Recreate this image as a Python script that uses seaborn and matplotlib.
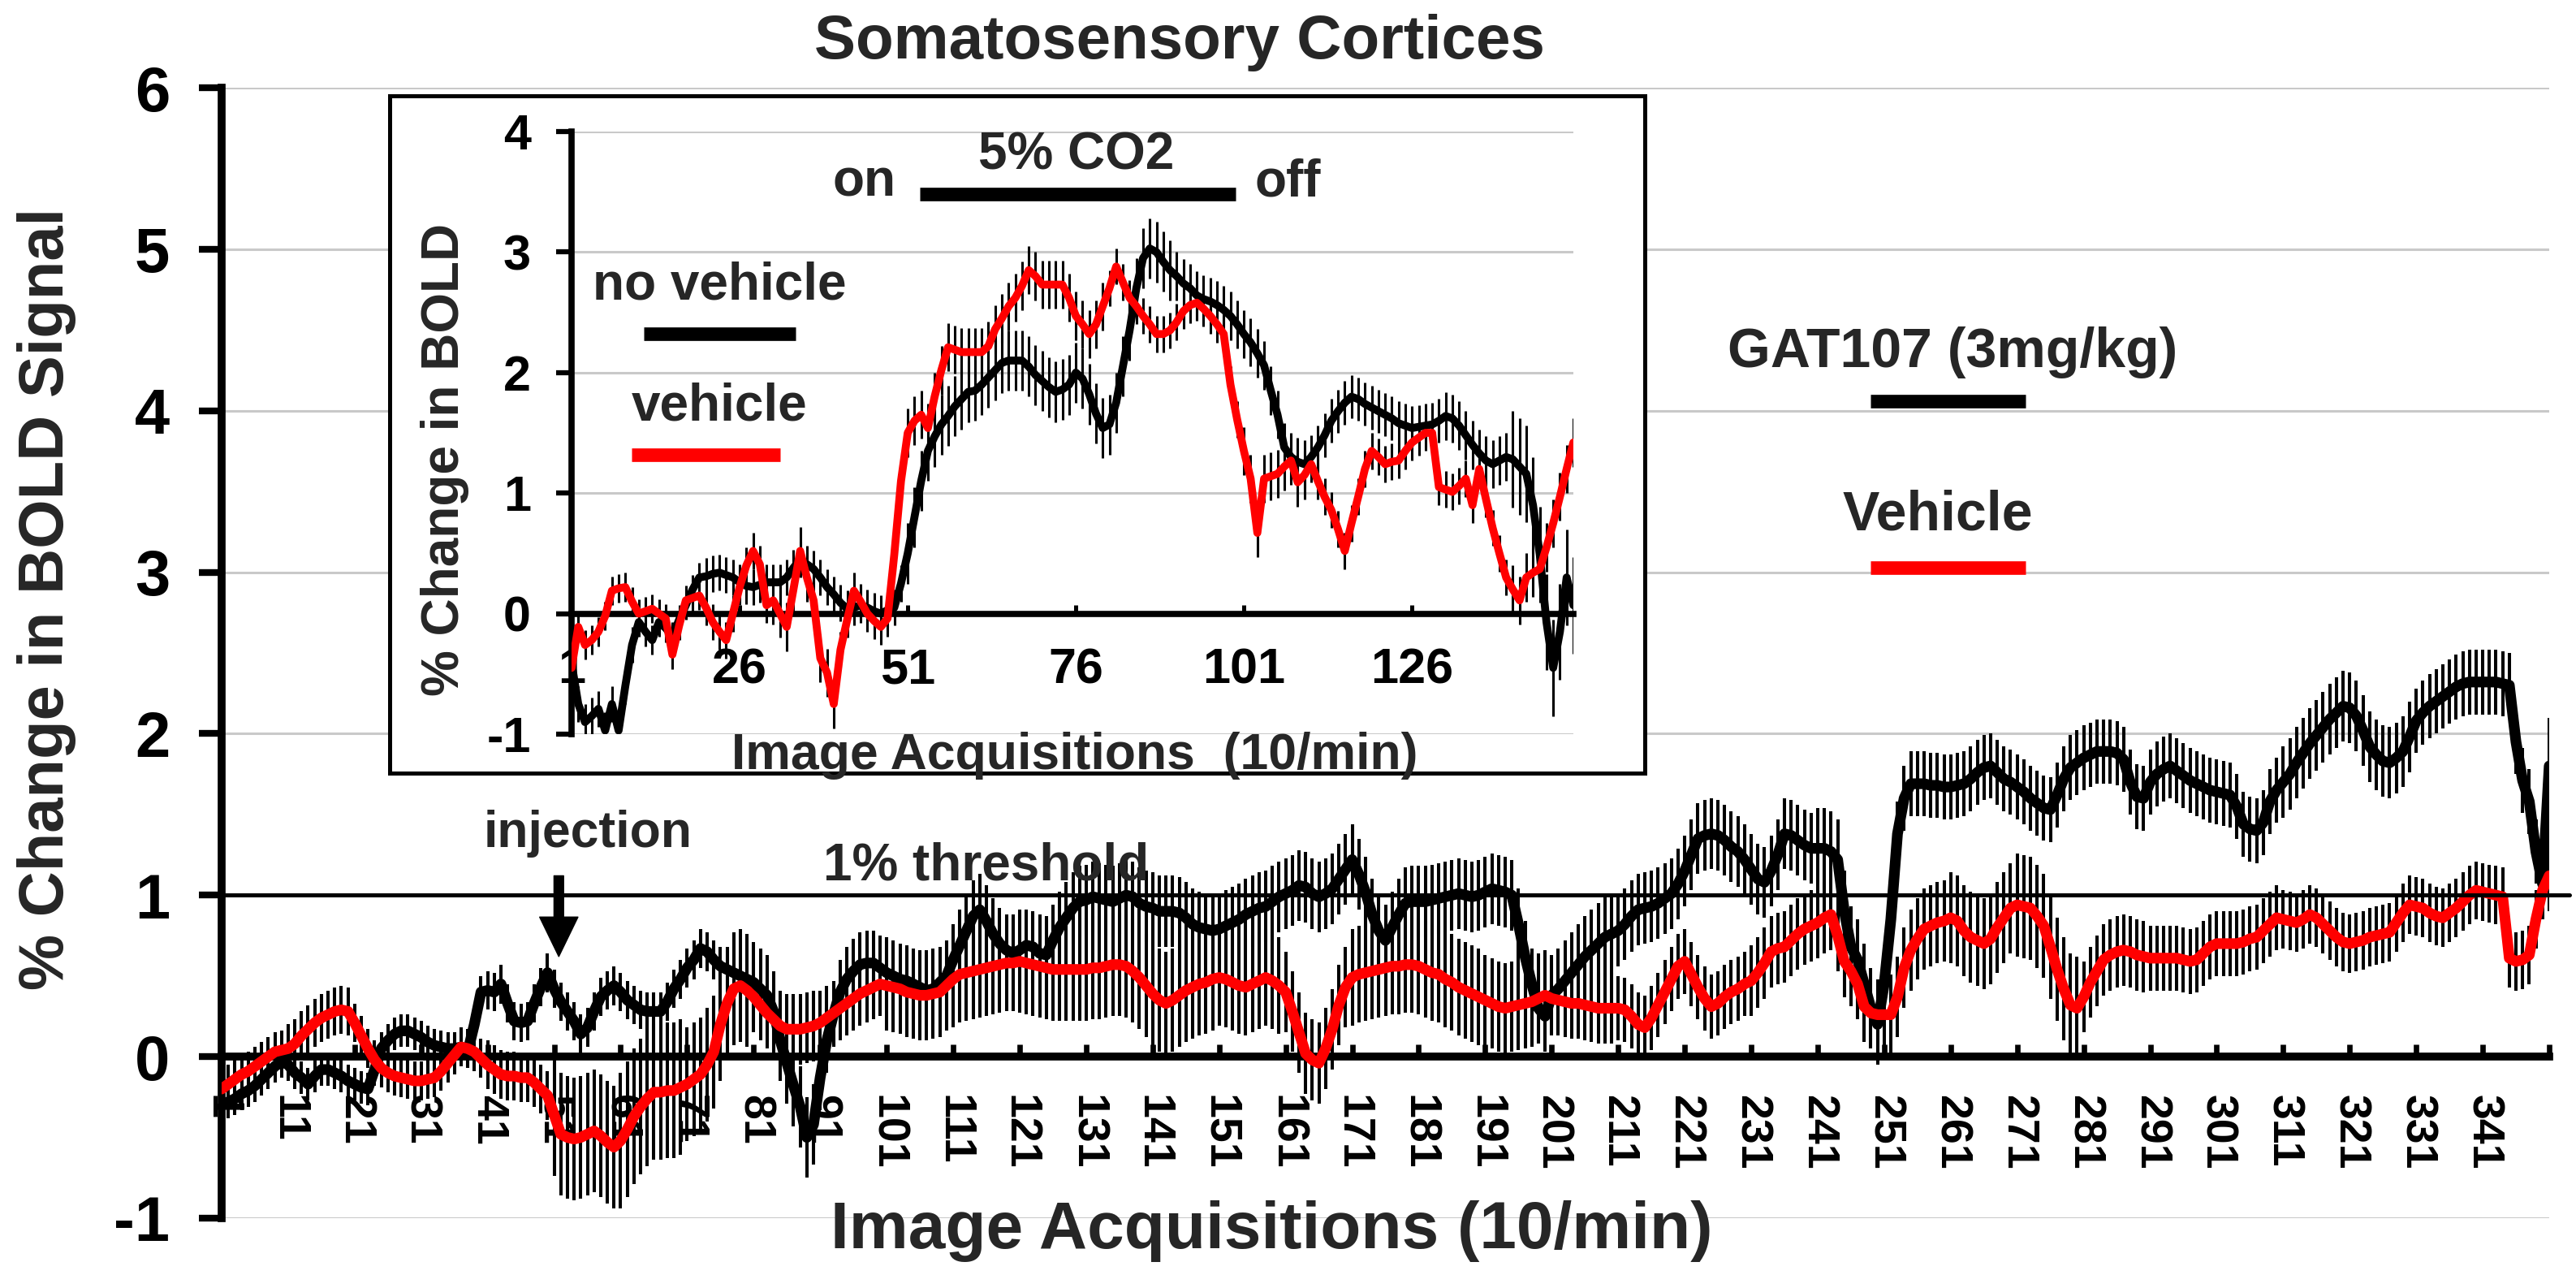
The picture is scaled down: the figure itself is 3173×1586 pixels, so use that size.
import numpy as np
import matplotlib
matplotlib.use("Agg")
import matplotlib.pyplot as plt
import seaborn as sns

# ---------------- data ----------------
# main panel: % change in BOLD, one value per image acquisition (1..351)
gat107_mean = [
    -0.30, -0.28, -0.26, -0.23, -0.21, -0.18, -0.14, -0.10, -0.06, -0.03,
    -0.05, -0.10, -0.13, -0.17, -0.12, -0.08, -0.08, -0.10, -0.12, -0.15,
    -0.17, -0.19, -0.20, -0.08, 0.05, 0.10, 0.14, 0.16, 0.16, 0.14,
    0.12, 0.09, 0.07, 0.06, 0.05, 0.05, 0.06, 0.03, 0.20, 0.40,
    0.41, 0.40, 0.45, 0.33, 0.22, 0.21, 0.22, 0.33, 0.43, 0.52,
    0.42, 0.34, 0.28, 0.22, 0.14, 0.18, 0.28, 0.37, 0.41, 0.44,
    0.40, 0.35, 0.32, 0.29, 0.28, 0.28, 0.28, 0.34, 0.42, 0.48,
    0.55, 0.60, 0.67, 0.65, 0.60, 0.56, 0.54, 0.52, 0.50, 0.48,
    0.46, 0.42, 0.38, 0.28, 0.10, -0.04, -0.18, -0.31, -0.50, -0.42,
    -0.13, 0.10, 0.26, 0.40, 0.48, 0.53, 0.57, 0.58, 0.58, 0.55,
    0.52, 0.50, 0.48, 0.47, 0.45, 0.43, 0.41, 0.42, 0.46, 0.50,
    0.60, 0.69, 0.78, 0.87, 0.91, 0.84, 0.76, 0.70, 0.66, 0.64,
    0.66, 0.69, 0.68, 0.64, 0.63, 0.72, 0.80, 0.86, 0.92, 0.96,
    0.97, 0.99, 0.98, 0.97, 0.96, 0.98, 1.00, 0.99, 0.95, 0.93,
    0.92, 0.90, 0.90, 0.90, 0.89, 0.86, 0.82, 0.80, 0.79, 0.78,
    0.79, 0.81, 0.83, 0.85, 0.88, 0.90, 0.92, 0.93, 0.96, 0.99,
    1.01, 1.03, 1.06, 1.05, 1.01, 0.99, 1.01, 1.04, 1.10, 1.16,
    1.22, 1.13, 1.02, 0.88, 0.78, 0.72, 0.80, 0.88, 0.95, 0.96,
    0.96, 0.96, 0.97, 0.98, 0.99, 1.00, 1.01, 1.00, 0.99, 1.00,
    1.02, 1.04, 1.03, 1.02, 1.00, 0.82, 0.62, 0.45, 0.30, 0.25,
    0.38, 0.42, 0.47, 0.52, 0.57, 0.62, 0.66, 0.70, 0.74, 0.76,
    0.78, 0.82, 0.87, 0.91, 0.92, 0.93, 0.95, 0.98, 1.01, 1.07,
    1.15, 1.25, 1.35, 1.37, 1.38, 1.37, 1.34, 1.30, 1.27, 1.22,
    1.16, 1.10, 1.08, 1.15, 1.25, 1.38, 1.37, 1.34, 1.31, 1.29,
    1.29, 1.29, 1.27, 1.22, 0.90, 0.68, 0.60, 0.45, 0.30, 0.20,
    0.45, 0.85, 1.38, 1.60, 1.69, 1.69, 1.69, 1.68, 1.68, 1.67,
    1.67, 1.68, 1.69, 1.72, 1.76, 1.79, 1.80, 1.76, 1.72, 1.70,
    1.67, 1.64, 1.60, 1.57, 1.54, 1.53, 1.62, 1.72, 1.79, 1.82,
    1.85, 1.87, 1.89, 1.89, 1.89, 1.88, 1.84, 1.70, 1.61, 1.60,
    1.70, 1.75, 1.78, 1.80, 1.77, 1.74, 1.71, 1.69, 1.67, 1.65,
    1.64, 1.63, 1.62, 1.55, 1.44, 1.41, 1.40, 1.45, 1.58, 1.65,
    1.70, 1.75, 1.82, 1.88, 1.94, 1.99, 2.04, 2.09, 2.13, 2.17,
    2.16, 2.11, 2.02, 1.92, 1.87, 1.83, 1.82, 1.85, 1.89, 1.98,
    2.08, 2.13, 2.17, 2.20, 2.23, 2.26, 2.29, 2.31, 2.32, 2.32,
    2.32, 2.32, 2.32, 2.31, 2.30, 1.95, 1.71, 1.58, 1.27, 1.07,
    1.80,
]
vehicle_mean = [
    -0.20, -0.17, -0.14, -0.11, -0.09, -0.06, -0.03, 0.00, 0.03, 0.04,
    0.05, 0.08, 0.13, 0.17, 0.21, 0.24, 0.26, 0.28, 0.29, 0.28,
    0.21, 0.13, 0.05, -0.02, -0.07, -0.10, -0.12, -0.13, -0.14, -0.15,
    -0.15, -0.14, -0.13, -0.09, -0.04, 0.01, 0.06, 0.05, 0.03, -0.01,
    -0.05, -0.08, -0.11, -0.12, -0.12, -0.13, -0.13, -0.16, -0.20, -0.24,
    -0.36, -0.48, -0.50, -0.51, -0.50, -0.48, -0.46, -0.49, -0.53, -0.56,
    -0.52, -0.45, -0.37, -0.31, -0.26, -0.22, -0.22, -0.21, -0.21, -0.19,
    -0.17, -0.14, -0.11, -0.05, 0.03, 0.20, 0.33, 0.42, 0.44, 0.41,
    0.37, 0.32, 0.27, 0.23, 0.19, 0.17, 0.17, 0.17, 0.18, 0.19,
    0.21, 0.24, 0.27, 0.30, 0.33, 0.36, 0.39, 0.41, 0.43, 0.45,
    0.44, 0.43, 0.42, 0.40, 0.39, 0.38, 0.38, 0.39, 0.40, 0.44,
    0.48, 0.51, 0.52, 0.53, 0.54, 0.55, 0.56, 0.57, 0.58, 0.58,
    0.59, 0.58, 0.57, 0.56, 0.55, 0.54, 0.54, 0.54, 0.54, 0.54,
    0.54, 0.55, 0.55, 0.56, 0.57, 0.57, 0.56, 0.53, 0.49, 0.44,
    0.39, 0.35, 0.33, 0.35, 0.38, 0.41, 0.43, 0.45, 0.46, 0.48,
    0.49, 0.48, 0.46, 0.44, 0.43, 0.45, 0.47, 0.49, 0.47, 0.44,
    0.40, 0.28, 0.15, 0.02, -0.02, -0.04, 0.05, 0.17, 0.32, 0.43,
    0.49, 0.51, 0.52, 0.53, 0.54, 0.55, 0.56, 0.56, 0.57, 0.57,
    0.56, 0.54, 0.52, 0.51, 0.48, 0.46, 0.43, 0.41, 0.39, 0.37,
    0.35, 0.33, 0.31, 0.30, 0.31, 0.32, 0.33, 0.34, 0.36, 0.38,
    0.36, 0.35, 0.34, 0.33, 0.33, 0.32, 0.31, 0.30, 0.30, 0.30,
    0.30, 0.29, 0.25, 0.20, 0.18, 0.24, 0.32, 0.40, 0.48, 0.56,
    0.59, 0.51, 0.43, 0.36, 0.31, 0.33, 0.37, 0.40, 0.42, 0.45,
    0.47, 0.52, 0.58, 0.65, 0.67, 0.68, 0.72, 0.76, 0.79, 0.81,
    0.83, 0.86, 0.88, 0.75, 0.59, 0.53, 0.45, 0.31, 0.27, 0.26,
    0.26, 0.26, 0.37, 0.55, 0.66, 0.73, 0.79, 0.81, 0.83, 0.84,
    0.86, 0.84, 0.78, 0.74, 0.72, 0.70, 0.73, 0.80, 0.86, 0.92,
    0.94, 0.93, 0.92, 0.87, 0.81, 0.68, 0.54, 0.42, 0.32, 0.30,
    0.37, 0.46, 0.53, 0.60, 0.63, 0.65, 0.66, 0.65, 0.63, 0.62,
    0.61, 0.61, 0.61, 0.61, 0.61, 0.60, 0.59, 0.60, 0.64, 0.68,
    0.70, 0.70, 0.70, 0.70, 0.71, 0.73, 0.74, 0.78, 0.82, 0.86,
    0.85, 0.84, 0.83, 0.85, 0.88, 0.86, 0.82, 0.78, 0.74, 0.71,
    0.70, 0.71, 0.72, 0.74, 0.75, 0.76, 0.77, 0.83, 0.89, 0.94,
    0.93, 0.92, 0.89, 0.87, 0.86, 0.89, 0.92, 0.96, 1.00, 1.03,
    1.02, 1.01, 1.00, 0.99, 0.61, 0.59, 0.60, 0.63, 0.85, 1.03,
    1.12,
]
# error bar half-length, one value per block of 10 acquisitions
gat107_sem_blocks = [0.10, 0.10, 0.10, 0.10, 0.12, 0.12, 0.12, 0.12, 0.25, 0.20,
                     0.22, 0.22, 0.22, 0.22, 0.22, 0.22, 0.22, 0.22, 0.22, 0.22,
                     0.25, 0.22, 0.22, 0.22, 0.25, 0.20, 0.20, 0.20, 0.20, 0.20,
                     0.20, 0.22, 0.22, 0.20, 0.20, 0.30]
vehicle_sem_blocks = [0.12, 0.15, 0.12, 0.12, 0.15, 0.38, 0.42, 0.35, 0.22, 0.20,
                      0.28, 0.30, 0.32, 0.32, 0.32, 0.30, 0.25, 0.30, 0.30, 0.28,
                      0.22, 0.20, 0.20, 0.22, 0.22, 0.25, 0.28, 0.32, 0.22, 0.20,
                      0.20, 0.18, 0.18, 0.18, 0.18, 0.22]

# inset: 5% CO2 challenge, acquisitions 1..150
no_vehicle_mean = [
    -0.41, -0.75, -0.90, -0.85, -0.79, -0.97, -0.75, -0.97, -0.60, -0.26,
    -0.07, -0.15, -0.22, -0.07, -0.12, -0.19, -0.05, 0.07, 0.20, 0.30,
    0.31, 0.33, 0.34, 0.32, 0.30, 0.26, 0.23, 0.22, 0.24, 0.26,
    0.26, 0.26, 0.30, 0.38, 0.45, 0.41, 0.37, 0.30, 0.22, 0.16,
    0.09, 0.04, 0.05, 0.07, 0.05, 0.02, 0.00, 0.03, 0.05, 0.25,
    0.50, 0.80, 1.10, 1.35, 1.47, 1.57, 1.64, 1.72, 1.78, 1.84,
    1.85, 1.90, 1.96, 2.02, 2.08, 2.10, 2.10, 2.10, 2.05, 1.98,
    1.93, 1.88, 1.84, 1.86, 1.90, 2.00, 1.95, 1.82, 1.66, 1.54,
    1.57, 1.75, 2.05, 2.35, 2.70, 2.95, 3.03, 3.00, 2.92, 2.85,
    2.80, 2.74, 2.70, 2.64, 2.61, 2.59, 2.56, 2.52, 2.47, 2.40,
    2.32, 2.25, 2.16, 2.06, 1.85, 1.65, 1.38, 1.30, 1.26, 1.24,
    1.30, 1.38, 1.48, 1.60, 1.68, 1.75, 1.80, 1.78, 1.74, 1.71,
    1.68, 1.65, 1.62, 1.58, 1.56, 1.54, 1.55, 1.56, 1.57, 1.60,
    1.64, 1.62, 1.56, 1.48, 1.40, 1.33, 1.27, 1.24, 1.27, 1.30,
    1.28, 1.22, 1.16, 0.90, 0.49, -0.07, -0.45, -0.15, 0.30, 0.07,
]
inset_vehicle_mean = [
    -0.45, -0.11, -0.26, -0.22, -0.15, -0.02, 0.19, 0.21, 0.22, 0.10,
    0.00, 0.02, 0.04, 0.00, -0.04, -0.34, -0.10, 0.11, 0.13, 0.15,
    0.05, -0.07, -0.15, -0.22, 0.00, 0.22, 0.40, 0.52, 0.41, 0.07,
    0.11, 0.00, -0.11, 0.20, 0.52, 0.30, 0.11, -0.37, -0.49, -0.75,
    -0.30, -0.05, 0.19, 0.10, 0.00, -0.06, -0.11, -0.04, 0.49, 1.10,
    1.50, 1.60, 1.65, 1.54, 1.80, 2.02, 2.21, 2.19, 2.17, 2.17,
    2.17, 2.17, 2.22, 2.36, 2.45, 2.55, 2.62, 2.72, 2.85, 2.80,
    2.73, 2.73, 2.73, 2.73, 2.62, 2.47, 2.40, 2.32, 2.40, 2.55,
    2.70, 2.88, 2.75, 2.62, 2.55, 2.47, 2.40, 2.32, 2.32, 2.35,
    2.42, 2.51, 2.56, 2.58, 2.53, 2.47, 2.40, 2.32, 1.90, 1.61,
    1.35, 1.12, 0.67, 1.12, 1.14, 1.16, 1.22, 1.27, 1.09, 1.15,
    1.24, 1.10, 0.97, 0.86, 0.70, 0.52, 0.75, 0.97, 1.20, 1.35,
    1.30, 1.24, 1.26, 1.27, 1.35, 1.42, 1.46, 1.50, 1.50, 1.05,
    1.03, 1.01, 1.06, 1.12, 0.90, 1.20, 0.95, 0.71, 0.50, 0.30,
    0.20, 0.11, 0.30, 0.34, 0.37, 0.55, 0.75, 0.97, 1.20, 1.42,
]
no_vehicle_sem_blocks = [0.15, 0.12, 0.15, 0.15, 0.15, 0.25, 0.25, 0.25,
                         0.25, 0.20, 0.20, 0.18, 0.18, 0.20, 0.40]
inset_vehicle_sem_blocks = [0.12, 0.12, 0.15, 0.20, 0.15, 0.20, 0.20, 0.20,
                            0.15, 0.15, 0.20, 0.15, 0.15, 0.15, 0.20]

main_ticks = list(range(1, 352, 10))
inset_ticks = [1, 26, 51, 76, 101, 126]

# ---------------- figure ----------------
sns.set_theme(style="white")
plt.rcParams['font.family'] = ['Liberation Sans', 'DejaVu Sans']
plt.rcParams['font.weight'] = 'bold'
plt.rcParams['axes.unicode_minus'] = False

W, H = 3173, 1586
fig = plt.figure(figsize=(W / 100, H / 100), dpi=100)
fig.patch.set_facecolor('white')


def box(left, top, right, bottom):
    # pixel box -> figure fraction rect
    return [left / W, 1 - bottom / H, (right - left) / W, (bottom - top) / H]


def style_axes(a, spine_w, ytick_len, ytick_w, yfs, xfs, xpad, ypad, xrot):
    for s in ['top', 'right']:
        a.spines[s].set_visible(False)
    a.spines['bottom'].set_position(('data', 0))
    a.spines['bottom'].set_linewidth(spine_w)
    a.spines['left'].set_linewidth(spine_w)
    a.spines['bottom'].set_color('black')
    a.spines['left'].set_color('black')
    a.tick_params(axis='y', direction='out', length=ytick_len, width=ytick_w,
                  labelsize=yfs, pad=ypad, left=True, colors='black')
    a.tick_params(axis='x', direction='in', length=ytick_len * 0.55, width=ytick_w * 0.8,
                  labelsize=xfs, pad=xpad, bottom=True, colors='black',
                  labelrotation=xrot)
    a.yaxis.grid(True, color='#c9c9c9', linewidth=2.2)
    a.xaxis.grid(False)
    a.set_axisbelow(True)
    for lab in a.get_xticklabels() + a.get_yticklabels():
        lab.set_fontweight('bold')


# main panel
ax = fig.add_axes(box(273, 108, 3140, 1500))
x_main = np.arange(1, len(gat107_mean) + 1)
gat_sem = np.repeat(gat107_sem_blocks, 10)[:len(gat107_mean)]
veh_sem = np.repeat(vehicle_sem_blocks, 10)[:len(vehicle_mean)]
ax.errorbar(x_main, vehicle_mean, yerr=veh_sem, fmt='none', ecolor='black',
            elinewidth=2.9, capsize=0, zorder=2)
ax.errorbar(x_main, gat107_mean, yerr=gat_sem, fmt='none', ecolor='black',
            elinewidth=2.9, capsize=0, zorder=2)
sns.lineplot(x=x_main, y=gat107_mean, ax=ax, color='black', linewidth=9.5,
             zorder=3, legend=False)
sns.lineplot(x=x_main, y=vehicle_mean, ax=ax, color='#ff0000', linewidth=9.5,
             zorder=4, legend=False)
ax.set_xlim(1, 351)
ax.set_ylim(-1, 6)
ax.set_yticks(range(-1, 7))
ax.set_xticks(main_ticks)
ax.set_xticklabels([str(t) for t in main_ticks[:-1]] + [''])
ax.set_xlabel('')
ax.set_ylabel('')
style_axes(ax, spine_w=7, ytick_len=20, ytick_w=6, yfs=56, xfs=40, xpad=34, ypad=26,
           xrot=-90)

# 1% threshold line
ax.plot([1, 354], [1, 1], color='black', linewidth=3.6, clip_on=False, zorder=5)
ax.text(115.9, 1.18, '1% threshold', fontsize=46, fontweight='bold',
        ha='center', va='center', zorder=6)

# injection arrow
ax.annotate('', xy=(51.7, 0.62), xytext=(51.7, 1.12),
            arrowprops=dict(facecolor='black', edgecolor='black', width=8.5,
                            headwidth=34, headlength=35, shrink=0), zorder=6)
ax.text(56.1, 1.38, 'injection', fontsize=45, fontweight='bold',
        ha='center', va='center')

# legend drawn as in the original
ax.text(261.3, 4.36, 'GAT107 (3mg/kg)', fontsize=49, fontweight='bold',
        ha='center', va='center')
ax.plot([249, 272.2], [4.06, 4.06], color='black', linewidth=12,
        solid_capstyle='butt')
ax.text(259.1, 3.35, 'Vehicle', fontsize=49, fontweight='bold',
        ha='center', va='center')
ax.plot([249, 272.2], [3.03, 3.03], color='#ff0000', linewidth=12,
        solid_capstyle='butt')

fig.text(58 / W, 1 - 737 / H, '% Change in BOLD Signal', rotation=90,
         fontsize=56, fontweight='bold', ha='center', va='center')
fig.text(1566 / W, 1 - 1516 / H, 'Image Acquisitions (10/min)',
         fontsize=59, fontweight='bold', ha='center', va='center')
fig.text(1453 / W, 1 - 52 / H, 'Somatosensory Cortices',
         fontsize=55, fontweight='bold', ha='center', va='center')

# inset frame
frame = fig.add_axes(box(480, 118, 2026, 952))
frame.set_xticks([])
frame.set_yticks([])
frame.set_facecolor('white')
for s in frame.spines.values():
    s.set_linewidth(3.6)
    s.set_color('black')
    s.set_visible(True)
frame.set_zorder(3)

# inset axes
ins = fig.add_axes(box(704, 162, 1938, 904))
ins.set_zorder(4)
ins.patch.set_alpha(0)
x_ins = np.arange(1, len(no_vehicle_mean) + 1)
nv_sem = np.repeat(no_vehicle_sem_blocks, 10)[:len(no_vehicle_mean)]
iv_sem = np.repeat(inset_vehicle_sem_blocks, 10)[:len(inset_vehicle_mean)]
ins.errorbar(x_ins, no_vehicle_mean, yerr=nv_sem, fmt='none', ecolor='black',
             elinewidth=2.2, capsize=0, zorder=2)
ins.errorbar(x_ins, inset_vehicle_mean, yerr=iv_sem, fmt='none', ecolor='black',
             elinewidth=2.2, capsize=0, zorder=2)
sns.lineplot(x=x_ins, y=no_vehicle_mean, ax=ins, color='black', linewidth=7,
             zorder=3, legend=False)
sns.lineplot(x=x_ins, y=inset_vehicle_mean, ax=ins, color='#ff0000', linewidth=7,
             zorder=4, legend=False)
ins.set_xlim(1, 150)
ins.set_ylim(-1, 4)
ins.set_yticks(range(-1, 5))
ins.set_xticks(inset_ticks)
ins.set_xticklabels([str(t) for t in inset_ticks])
ins.set_xlabel('')
ins.set_ylabel('')
style_axes(ins, spine_w=5.5, ytick_len=14, ytick_w=4.5, yfs=44, xfs=44, xpad=30, ypad=22,
           xrot=0)

# CO2 bar and labels
ins.plot([52.8, 99.8], [3.48, 3.48], color='black', linewidth=12,
         solid_capstyle='butt', clip_on=False)
ins.text(76, 3.80, '5% CO2', fontsize=46, fontweight='bold', ha='center', va='center')
ins.text(44.5, 3.58, 'on', fontsize=46, fontweight='bold', ha='center', va='center')
ins.text(107.5, 3.58, 'off', fontsize=46, fontweight='bold', ha='center', va='center')

# inset legend
ins.text(23, 2.72, 'no vehicle', fontsize=46, fontweight='bold', ha='center', va='center')
ins.plot([11.7, 34.3], [2.32, 2.32], color='black', linewidth=12, solid_capstyle='butt')
ins.text(23, 1.72, 'vehicle', fontsize=46, fontweight='bold', ha='center', va='center')
ins.plot([9.9, 32.0], [1.32, 1.32], color='#ff0000', linewidth=12, solid_capstyle='butt')

fig.text(548 / W, 1 - 566 / H, '% Change in BOLD', rotation=90, fontsize=46,
         fontweight='bold', ha='center', va='center', zorder=10)
fig.text(1324 / W, 1 - 931 / H, 'Image Acquisitions  (10/min)', fontsize=45,
         fontweight='bold', ha='center', va='center', zorder=10)

fig.savefig('out.png', dpi=100, facecolor='white')
